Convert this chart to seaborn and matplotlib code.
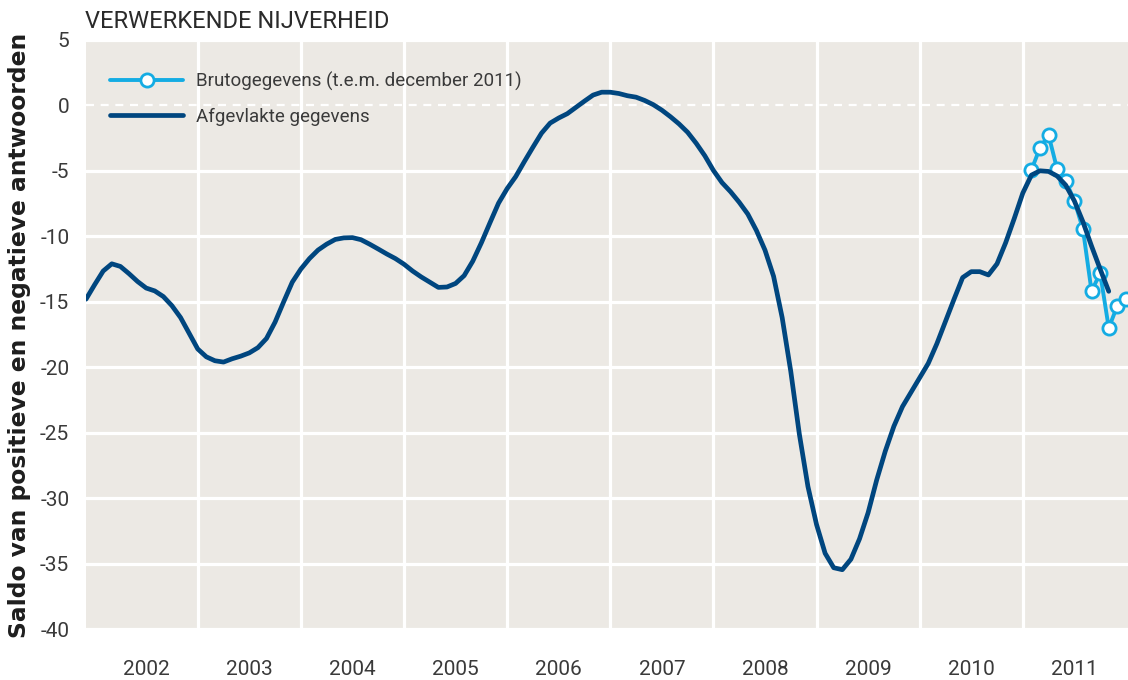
import numpy as np
import pandas as pd
import matplotlib
matplotlib.use("Agg")
import matplotlib.pyplot as plt
from matplotlib.ticker import FixedLocator, FixedFormatter
import seaborn as sns

# Smoothed balance, monthly from November 2001 to October 2011
smoothed_start = 2001 + 11 / 12
smoothed_values = [
    -14.8, -13.7,
    -12.65, -12.1, -12.3, -12.85, -13.45, -13.95, -14.17, -14.6, -15.3, -16.2, -17.4, -18.6,
    -19.2, -19.5, -19.6, -19.35, -19.15, -18.9, -18.5, -17.8, -16.55, -15.0, -13.5, -12.5,
    -11.7, -11.05, -10.6, -10.24, -10.12, -10.1, -10.26, -10.6, -10.97, -11.35, -11.7, -12.13,
    -12.65, -13.1, -13.5, -13.9, -13.87, -13.6, -13.0, -11.9, -10.5, -8.97, -7.47, -6.36,
    -5.44, -4.3, -3.2, -2.13, -1.36, -0.97, -0.64, -0.16, 0.32, 0.78, 1.0, 1.0,
    0.9, 0.73, 0.62, 0.37, 0.05, -0.37, -0.87, -1.42, -2.06, -2.9, -3.85, -4.97,
    -5.9, -6.6, -7.4, -8.3, -9.55, -11.05, -13.05, -16.2, -20.3, -25.1, -29.1, -32.0,
    -34.2, -35.3, -35.45, -34.65, -33.1, -31.1, -28.6, -26.4, -24.5, -23.0, -21.9, -20.8,
    -19.7, -18.2, -16.5, -14.8, -13.15, -12.7, -12.7, -12.95, -12.1, -10.5, -8.65, -6.7,
    -5.33, -5.0, -5.05, -5.4, -6.1, -7.3, -8.9, -10.75, -12.5, -14.2,
]

# Raw survey balance, January to December 2011
raw_months = list(range(1, 13))
raw_values = [-4.94, -3.24, -2.27, -4.89, -5.78, -7.28, -9.47, -14.2, -12.8, -17.0, -15.3, -14.8]

years = list(range(2002, 2012))
y_ticks = [-40, -35, -30, -25, -20, -15, -10, -5, 0, 5]

label_raw = "Brutogegevens (t.e.m. december 2011)"
label_smooth = "Afgevlakte gegevens"
title = "VERWERKENDE NIJVERHEID"
y_title = "Saldo van positieve en negatieve antwoorden"

smooth_df = pd.DataFrame({
    "t": smoothed_start + np.arange(len(smoothed_values)) / 12,
    "v": smoothed_values,
})
raw_df = pd.DataFrame({
    "t": [2011 + m / 12 for m in raw_months],
    "v": raw_values,
})

BG = "#ECE9E4"
LIGHT = "#14ACE3"
DARK = "#00467F"
TEXT = "#3A3A3A"

sns.set_style("white", {"axes.facecolor": BG})
plt.rcParams["font.family"] = ["Roboto", "DejaVu Sans"]

fig = plt.figure(figsize=(11.28, 6.8), dpi=100)
ax = fig.add_axes([86 / 1128, 1 - 629.3 / 680, 1042 / 1128, 589.5 / 680])
ax.set_facecolor(BG)

sns.lineplot(data=raw_df, x="t", y="v", ax=ax, color=LIGHT, lw=2.8,
             marker="o", markersize=9.5, markerfacecolor="white",
             markeredgecolor=LIGHT, markeredgewidth=2.0,
             label=label_raw, zorder=3)
sns.lineplot(data=smooth_df, x="t", y="v", ax=ax, color=DARK, lw=3.4,
             label=label_smooth, zorder=4)

ax.set_xlim(smoothed_start, 2012.02)
ax.set_ylim(-40, 5)

for s in ax.spines.values():
    s.set_visible(False)

ax.xaxis.set_major_locator(FixedLocator(years[1:]))
ax.xaxis.set_major_formatter(FixedFormatter([""] * len(years[1:])))
ax.xaxis.set_minor_locator(FixedLocator([y + 0.5 for y in years]))
ax.xaxis.set_minor_formatter(FixedFormatter([str(y) for y in years]))
ax.yaxis.set_major_locator(FixedLocator(y_ticks))
ax.yaxis.set_major_formatter(FixedFormatter([str(v) for v in y_ticks]))

ax.tick_params(axis="both", which="both", length=0)
ax.tick_params(axis="x", which="minor", pad=22, labelsize=15, labelcolor=TEXT)
ax.tick_params(axis="y", which="major", pad=12, labelsize=15, labelcolor=TEXT)

ax.grid(True, which="major", axis="both", color="white", lw=2.3)
for tick_val, gl in zip(y_ticks, ax.get_ygridlines()):
    if tick_val == 0:
        gl.set_linestyle((0, (3.6, 3.0)))
        gl.set_linewidth(1.6)
ax.set_axisbelow(True)

ax.set_xlabel("")
ax.set_ylabel("")

leg = ax.legend(loc="upper left", bbox_to_anchor=(0.023, 0.946), frameon=False,
                fontsize=13.5, handlelength=3.9, handletextpad=0.7, labelspacing=0.9,
                borderaxespad=0, borderpad=0)
for txt in leg.get_texts():
    txt.set_color(TEXT)

fig.text(85 / 1128, 1 - 22 / 680, title, ha="left", va="center",
         fontsize=17, color="#2A2A2A")
fig.text(20 / 1128, 1 - 335 / 680, y_title, rotation=90, ha="center", va="center",
         fontsize=16.8, fontweight="bold", color="#1E1E1E", family="DejaVu Sans")

fig.savefig("out.png", dpi=100)
